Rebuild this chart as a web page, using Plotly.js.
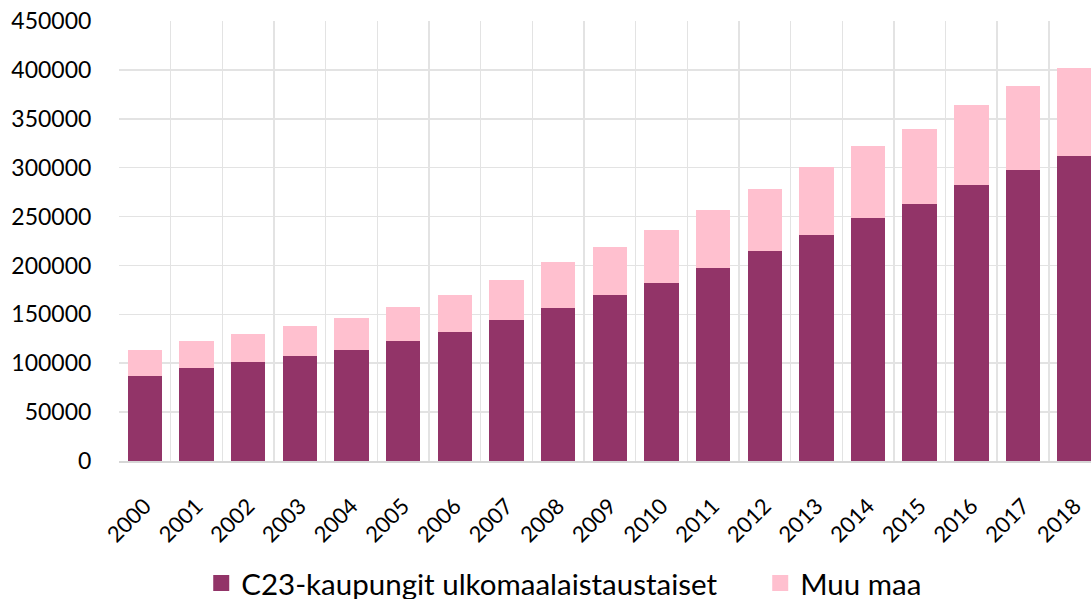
<!DOCTYPE html>
<html>
<head>
<meta charset="utf-8">
<script src="https://cdn.plot.ly/plotly-3.0.1.min.js"></script>
<style>
html, body { margin: 0; padding: 0; background: #fff; overflow: hidden; }
#chart { width: 1091px; height: 599px; }
</style>
</head>
<body>
<div id="chart"></div>
<script>
const years = ['2000','2001','2002','2003','2004','2005','2006','2007','2008','2009',
               '2010','2011','2012','2013','2014','2015','2016','2017','2018'];
const c23Values = [86500, 94900, 101000, 107100, 113600, 122400, 131500, 143700, 156900, 169500,
                   182300, 197600, 214800, 231500, 248400, 262800, 282400, 298000, 312200];
const muuMaaValues = [26700, 28200, 29200, 30900, 32500, 34900, 38300, 41700, 46200, 49800,
                      53900, 59300, 63800, 69400, 74000, 76900, 82000, 86000, 90100];
const seriesNames = ['C23-kaupungit ulkomaalaistaustaiset', 'Muu maa'];
const yTicks = [0, 50000, 100000, 150000, 200000, 250000, 300000, 350000, 400000, 450000];

const darkColor = '#923468';
const pinkColor = '#ffc0cf';
const font = 'Lato, "Open Sans", sans-serif';

const traces = [
  { type: 'bar', x: years, y: c23Values, name: seriesNames[0], marker: { color: darkColor }, showlegend: false, hoverinfo: 'x+y' },
  { type: 'bar', x: years, y: muuMaaValues, name: seriesNames[1], marker: { color: pinkColor }, showlegend: false, hoverinfo: 'x+y' },
  { type: 'scatter', mode: 'markers', x: [null], y: [null], name: seriesNames[0], legendwidth: 514,
    marker: { symbol: 'square', size: 18, color: darkColor } },
  { type: 'scatter', mode: 'markers', x: [null], y: [null], name: seriesNames[1],
    marker: { symbol: 'square', size: 18, color: pinkColor } }
];

const layout = {
  width: 1091, height: 599,
  margin: { l: 119, r: 0, t: 21, b: 138, autoexpand: false },
  paper_bgcolor: '#fff', plot_bgcolor: '#fff',
  barmode: 'stack',
  bargap: 0.332,
  font: { family: font, color: '#000' },
  xaxis: {
    type: 'category',
    range: [-0.5, 18.315],
    tickson: 'boundaries',
    showgrid: true, gridcolor: '#e3e3e3', gridwidth: 1.5,
    showline: true, linecolor: '#d6d6d6', linewidth: 1.5,
    ticks: '', tickangle: -45,
    ticklabelstandoff: 22,
    tickfont: { family: font, size: 22, color: '#000' },
    automargin: false,
    fixedrange: true
  },
  yaxis: {
    range: [0, 450000],
    tickvals: yTicks,
    tickformat: 'd',
    showgrid: true, gridcolor: '#e3e3e3', gridwidth: 1.5,
    zeroline: false, showline: false,
    ticks: 'outside', ticklen: 22, tickcolor: 'rgba(0,0,0,0)',
    tickfont: { family: font, size: 23, color: '#000' },
    automargin: false,
    fixedrange: true
  },
  legend: {
    orientation: 'h',
    traceorder: 'normal',
    x: 0.0846, xanchor: 'left',
    y: -0.278, yanchor: 'middle',
    font: { family: font, size: 29.5, color: '#000' },
    itemsizing: 'trace'
  },
  showlegend: true
};

Plotly.newPlot('chart', traces, layout, { displayModeBar: false, staticPlot: true });
</script>
</body>
</html>
